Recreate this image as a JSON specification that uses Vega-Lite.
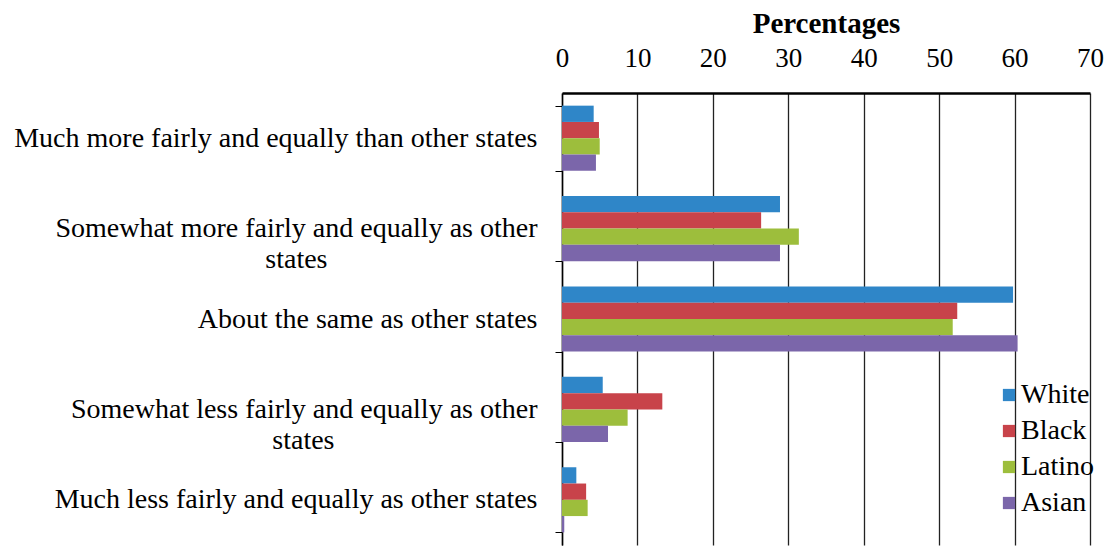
{
  "$schema": "https://vega.github.io/schema/vega-lite/v6.json",
  "autosize": "none",
  "width": 528,
  "height": 452,
  "padding": {"left": 562, "top": 93, "right": 22, "bottom": 13},
  "background": "white",
  "config": {
    "view": {"stroke": null},
    "font": "Liberation Serif"
  },
  "data": {
    "values": [
      {"response": "Much more fairly and equally than other states", "group": "White", "pct": 4.2},
      {"response": "Much more fairly and equally than other states", "group": "Black", "pct": 4.9},
      {"response": "Much more fairly and equally than other states", "group": "Latino", "pct": 5.0},
      {"response": "Much more fairly and equally than other states", "group": "Asian", "pct": 4.5},
      {"response": "Somewhat more fairly and equally as other states", "group": "White", "pct": 28.9},
      {"response": "Somewhat more fairly and equally as other states", "group": "Black", "pct": 26.4},
      {"response": "Somewhat more fairly and equally as other states", "group": "Latino", "pct": 31.4},
      {"response": "Somewhat more fairly and equally as other states", "group": "Asian", "pct": 28.9},
      {"response": "About the same as other states", "group": "White", "pct": 59.8},
      {"response": "About the same as other states", "group": "Black", "pct": 52.4},
      {"response": "About the same as other states", "group": "Latino", "pct": 51.8},
      {"response": "About the same as other states", "group": "Asian", "pct": 60.4},
      {"response": "Somewhat less fairly and equally as other states", "group": "White", "pct": 5.4},
      {"response": "Somewhat less fairly and equally as other states", "group": "Black", "pct": 13.3},
      {"response": "Somewhat less fairly and equally as other states", "group": "Latino", "pct": 8.7},
      {"response": "Somewhat less fairly and equally as other states", "group": "Asian", "pct": 6.1},
      {"response": "Much less fairly and equally as other states", "group": "White", "pct": 1.9},
      {"response": "Much less fairly and equally as other states", "group": "Black", "pct": 3.2},
      {"response": "Much less fairly and equally as other states", "group": "Latino", "pct": 3.4},
      {"response": "Much less fairly and equally as other states", "group": "Asian", "pct": 0.3}
    ]
  },
  "mark": {"type": "bar"},
  "encoding": {
    "y": {
      "field": "response",
      "type": "nominal",
      "sort": null,
      "scale": {"paddingInner": 0.28, "paddingOuter": 0.14},
      "axis": {
        "title": null,
        "labelFont": "Liberation Serif",
        "labelFontSize": 28,
        "labelColor": "black",
        "labelLimit": 600,
        "labelPadding": 18,
        "labelLineHeight": 31,
        "tickBand": "extent",
        "tickColor": "black",
        "tickSize": 7,
        "domainColor": "black",
        "domainWidth": 1.5,
        "labelExpr": "datum.value == 'Somewhat more fairly and equally as other states' ? ['Somewhat more fairly and equally as other', 'states\u00a0\u00a0\u00a0\u00a0\u00a0\u00a0\u00a0\u00a0\u00a0\u00a0\u00a0\u00a0\u00a0\u00a0\u00a0\u00a0\u00a0\u00a0\u00a0\u00a0\u00a0\u00a0\u00a0\u00a0\u00a0\u00a0\u00a0\u00a0\u00a0\u00a0\u200b'] : datum.value == 'Somewhat less fairly and equally as other states' ? ['Somewhat less fairly and equally as other', 'states\u00a0\u00a0\u00a0\u00a0\u00a0\u00a0\u00a0\u00a0\u00a0\u00a0\u00a0\u00a0\u00a0\u00a0\u00a0\u00a0\u00a0\u00a0\u00a0\u00a0\u00a0\u00a0\u00a0\u00a0\u00a0\u00a0\u00a0\u00a0\u00a0\u200b'] : datum.value"
      }
    },
    "yOffset": {
      "field": "group",
      "type": "nominal",
      "sort": ["White", "Black", "Latino", "Asian"],
      "scale": {"paddingInner": 0, "paddingOuter": 0}
    },
    "x": {
      "field": "pct",
      "type": "quantitative",
      "scale": {"domain": [0, 70], "nice": false},
      "axis": {
        "orient": "top",
        "title": "Percentages",
        "titleFont": "Liberation Serif",
        "titleFontSize": 29,
        "titleFontWeight": "bold",
        "titleColor": "black",
        "titlePadding": 6,
        "values": [0, 10, 20, 30, 40, 50, 60, 70],
        "labelFont": "Liberation Serif",
        "labelFontSize": 27,
        "labelColor": "black",
        "labelPadding": 21,
        "labelFlush": false,
        "ticks": false,
        "grid": true,
        "gridColor": "#222222",
        "gridWidth": 1.3,
        "domainColor": "black",
        "domainWidth": 2.5
      }
    },
    "color": {
      "field": "group",
      "type": "nominal",
      "sort": ["White", "Black", "Latino", "Asian"],
      "scale": {
        "domain": ["White", "Black", "Latino", "Asian"],
        "range": ["#2F86C8", "#C8434A", "#9DBE3C", "#7B66AA"]
      },
      "legend": {
        "title": null,
        "orient": "none",
        "legendX": 433,
        "legendY": 288,
        "symbolType": "square",
        "symbolSize": 150,
        "symbolStrokeWidth": 0,
        "labelFont": "Liberation Serif",
        "labelFontSize": 28,
        "labelColor": "black",
        "labelOffset": -2,
        "rowPadding": 8
      }
    }
  }
}
